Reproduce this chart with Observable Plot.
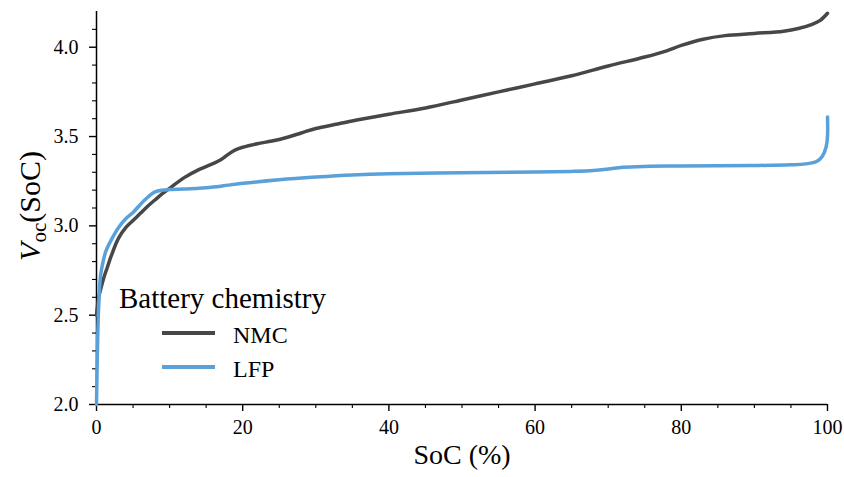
<!DOCTYPE html>
<html><head><meta charset="utf-8">
<script src="https://cdn.jsdelivr.net/npm/d3@7"></script>
<script src="https://cdn.jsdelivr.net/npm/@observablehq/plot@0.6"></script>
<style>body{margin:0;background:#fff} svg{display:block}</style>
</head><body><div id="chart"></div>
<script>
// ---- data ----
const series = ["NMC", "LFP"];
const seriesColors = ["#474747", "#5aa0d9"];

const nmcSoC = [0, 0.3, 0.6, 1, 1.5, 2, 3, 4, 5, 6, 7, 8, 9, 10, 12, 14, 16, 17, 18, 19, 20, 22, 24, 26, 28, 30, 33, 36, 40, 45, 50, 55, 60, 65, 70, 75, 78, 80, 83, 86, 90, 94, 96, 98, 99, 100];
const nmcV   = [2.5, 2.6, 2.65, 2.71, 2.77, 2.83, 2.93, 2.99, 3.03, 3.07, 3.11, 3.145, 3.18, 3.21, 3.27, 3.315, 3.35, 3.37, 3.4, 3.425, 3.44, 3.46, 3.475, 3.495, 3.52, 3.545, 3.57, 3.595, 3.625, 3.66, 3.705, 3.75, 3.795, 3.84, 3.895, 3.945, 3.98, 4.01, 4.045, 4.065, 4.077, 4.09, 4.105, 4.13, 4.15, 4.19];

const lfpSoC = [0, 0.15, 0.3, 0.55, 0.9, 1.3, 2, 3, 4, 5, 6, 7, 8, 9, 10, 12, 14, 16, 18, 20, 25, 30, 35, 40, 50, 60, 65, 68, 70, 72, 75, 80, 90, 95, 97, 98.5, 99.3, 99.8, 100, 100];
const lfpV   = [2.0, 2.35, 2.55, 2.72, 2.8, 2.86, 2.92, 2.99, 3.04, 3.075, 3.12, 3.16, 3.19, 3.2, 3.203, 3.206, 3.21, 3.217, 3.228, 3.238, 3.258, 3.273, 3.285, 3.292, 3.297, 3.301, 3.305, 3.31, 3.318, 3.328, 3.333, 3.335, 3.338, 3.342, 3.347, 3.36, 3.39, 3.44, 3.5, 3.61];

const xMajorTicks = [0, 20, 40, 60, 80, 100];
const xMinorTicks = [5, 10, 15, 25, 30, 35, 45, 50, 55, 65, 70, 75, 85, 90, 95];
const yMajorTicks = [2.0, 2.5, 3.0, 3.5, 4.0];
const yMinorTicks = [2.1, 2.2, 2.3, 2.4, 2.6, 2.7, 2.8, 2.9, 3.1, 3.2, 3.3, 3.4, 3.6, 3.7, 3.8, 3.9, 4.1];
const xDomain = [0, 100];
const yDomain = [2.0, 4.2];

// ---- build tables ----
const nmc = nmcSoC.map((s, i) => ({soc: s, v: nmcV[i]}));
const lfp = lfpSoC.map((s, i) => ({soc: s, v: lfpV[i]}));

const FONT = "'Liberation Serif', 'DejaVu Serif', serif";

const chart = Plot.plot({
  width: 844,
  height: 477,
  marginLeft: 96,
  marginRight: 17,
  marginTop: 11,
  marginBottom: 73,
  style: {fontFamily: FONT, fontSize: "20px", background: "#fff", color: "#000"},
  x: {domain: xDomain, axis: null},
  y: {domain: yDomain, axis: null},
  marks: [
    Plot.axisX(xMajorTicks, {tickSize: 7, tickPadding: 8, strokeWidth: 1.4, tickFormat: d3.format("d"), label: null, fontSize: 20}),
    Plot.axisX(xMinorTicks, {tickSize: 4, strokeWidth: 1.1, tickFormat: () => "", label: null}),
    Plot.axisY(yMajorTicks, {tickSize: 7, tickPadding: 11, strokeWidth: 1.4, tickFormat: d3.format(".1f"), label: null, fontSize: 20}),
    Plot.axisY(yMinorTicks, {tickSize: 4, strokeWidth: 1.1, tickFormat: () => "", label: null}),
    Plot.ruleX([xDomain[0]], {y1: yDomain[0], y2: yDomain[1], stroke: "#000", strokeWidth: 1.5}),
    Plot.ruleY([yDomain[0]], {x1: xDomain[0], x2: xDomain[1], stroke: "#000", strokeWidth: 1.5}),
    Plot.line(nmc, {x: "soc", y: "v", stroke: seriesColors[0], strokeWidth: 3.5, curve: "catmull-rom"}),
    Plot.line(lfp, {x: "soc", y: "v", stroke: seriesColors[1], strokeWidth: 3.5, curve: "catmull-rom"}),
    Plot.text(["SoC (%)"], {frameAnchor: "bottom", dy: 59, fontSize: 28, lineAnchor: "bottom", fill: "#000"})
  ]
});

document.getElementById("chart").appendChild(chart);

const svg = d3.select(chart);
// enforce tick label size
svg.selectAll("g[aria-label$='tick label']").attr("font-size", 20).style("font-size", "20px");
svg.selectAll("g[aria-label$='tick label'] text").style("font-size", "20px");

// y-axis label with subscript
const yl = svg.append("text")
  .attr("transform", "translate(40,206) rotate(-90)")
  .attr("text-anchor", "middle")
  .attr("font-family", FONT)
  .attr("font-size", 30)
  .attr("fill", "#000");
yl.append("tspan").attr("font-style", "italic").text("V");
yl.append("tspan").attr("font-size", 21).attr("dy", 6).text("oc");
yl.append("tspan").attr("dy", -6).text("(SoC)");

// legend
const lg = svg.append("g").attr("font-family", FONT).attr("fill", "#000").attr("text-anchor", "start");
lg.append("text").attr("x", 119).attr("y", 308).attr("font-size", 29).text("Battery chemistry");
series.forEach((name, i) => {
  const yy = 333 + i * 34;
  lg.append("line").attr("x1", 162).attr("x2", 215).attr("y1", yy).attr("y2", yy)
    .attr("stroke", seriesColors[i]).attr("stroke-width", 4);
  lg.append("text").attr("x", 233).attr("y", yy + 10).attr("font-size", 24).text(name);
});
</script>
</body></html>
